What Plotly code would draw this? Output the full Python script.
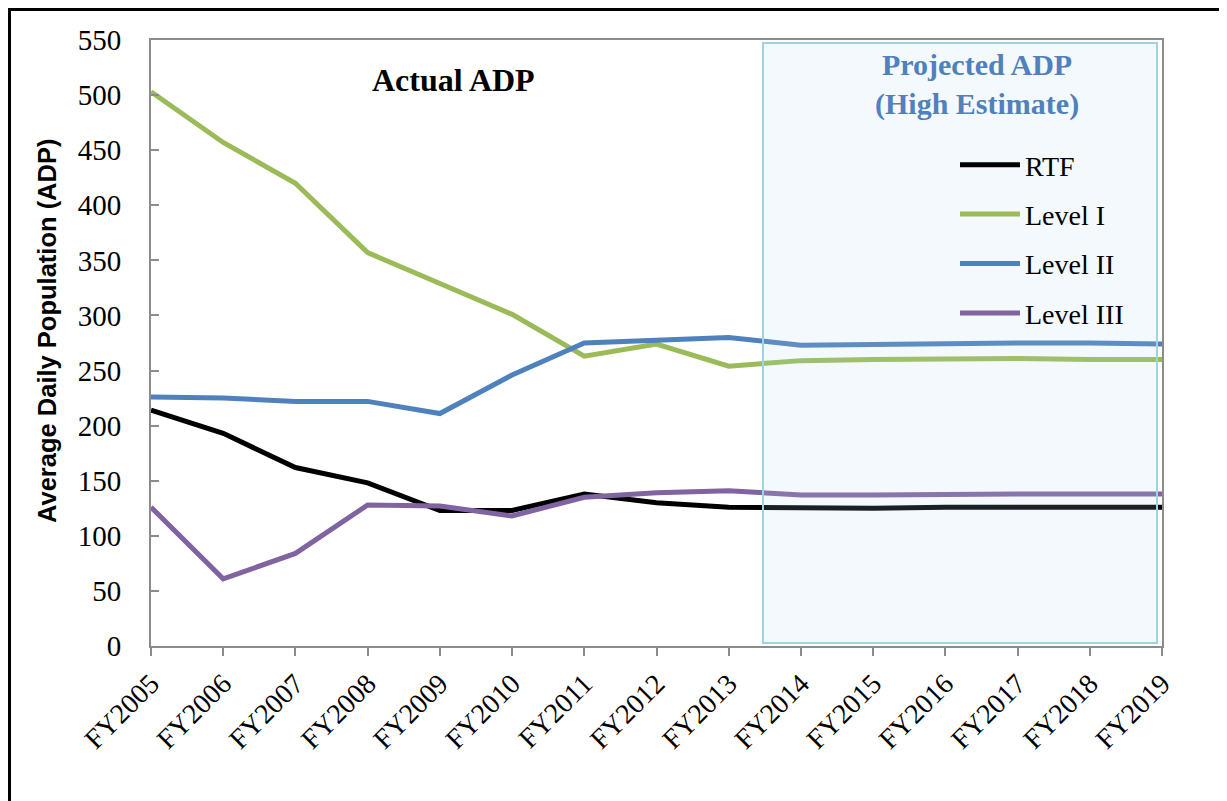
import plotly.graph_objects as go

years = ["FY2005", "FY2006", "FY2007", "FY2008", "FY2009", "FY2010", "FY2011", "FY2012",
         "FY2013", "FY2014", "FY2015", "FY2016", "FY2017", "FY2018", "FY2019"]
rtf = [214, 193, 162, 148, 123, 123, 138, 130, 126, 125, 125, 126, 126, 126, 126]
level1 = [503, 457, 420, 357, 329, 301, 263, 274, 254, 259, 260, 261, 261, 260, 260]
level2 = [226, 225, 222, 222, 211, 246, 275, 278, 280, 273, 274, 275, 275, 275, 274]
level3 = [126, 61, 84, 128, 127, 118, 135, 139, 141, 137, 137, 138, 138, 138, 138]

series = [("RTF", rtf, "#000000"), ("Level I", level1, "#9BBB59"),
          ("Level II", level2, "#4F81BD"), ("Level III", level3, "#8064A2")]

OFF = 8  # page body margin
W, H = 1227 - OFF, 801 - OFF
L, R, T, B = 151, 1162, 40, 646  # screen pixel positions of plot area
pw, ph = R - L, B - T
def px(x):
    return (x - L) / pw
def py(y):
    return (B - y) / ph

fig = go.Figure()
for i, (name, vals, col) in enumerate(series):
    fig.add_trace(go.Scatter(x=years, y=vals, name=name, mode="lines",
                             line=dict(color=col, width=5), legendgroup=f"g{i}"))

serif = "Liberation Serif"
fig.update_layout(
    width=W, height=H,
    margin=dict(l=L - OFF, r=W - (R - OFF), t=T - OFF, b=H - (B - OFF)),
    paper_bgcolor="white", plot_bgcolor="white",
    showlegend=True,
    legend=dict(x=px(955), y=py(140), xanchor="left", yanchor="top",
                font=dict(family=serif, size=28, color="#000000"),
                bgcolor="rgba(0,0,0,0)", tracegroupgap=10, itemwidth=60),
    xaxis=dict(range=[0, 14], showgrid=False, zeroline=False, showline=True,
               linecolor="#8c8c8c", linewidth=2, mirror=True,
               ticks="outside", ticklen=8, tickcolor="#8c8c8c", tickwidth=2,
               tickangle=-45, tickfont=dict(family=serif, size=28, color="#000000")),
    yaxis=dict(range=[0, 550], dtick=50, showgrid=False, zeroline=False, showline=True,
               linecolor="#8c8c8c", linewidth=2, mirror=True,
               ticks="inside", ticklen=8, tickcolor="#8c8c8c", tickwidth=2,
               ticklabelstandoff=22,
               tickfont=dict(family=serif, size=29, color="#000000")),
)

shapes = [
    dict(type="rect", xref="paper", yref="paper", x0=px(763), x1=px(1157), y0=py(643), y1=py(43),
         fillcolor="rgba(175,215,235,0.15)", line=dict(color="#9DD3E3", width=2), layer="above"),
    dict(type="line", xref="paper", yref="paper", x0=px(8), x1=px(1240), y0=py(9.5), y1=py(9.5),
         line=dict(color="#000000", width=3)),
    dict(type="line", xref="paper", yref="paper", x0=px(9.5), x1=px(9.5), y0=py(8), y1=py(820),
         line=dict(color="#000000", width=3)),
]
fig.update_layout(shapes=shapes)

fig.add_annotation(xref="paper", yref="paper", x=px(453), y=py(80), text="<b>Actual ADP</b>",
                   xanchor="center", yanchor="middle",
                   showarrow=False, font=dict(family=serif, size=32, color="#000000"))
fig.add_annotation(xref="paper", yref="paper", x=px(977), y=py(84),
                   text="<b>Projected ADP<br>(High Estimate)</b>", xanchor="center", yanchor="middle",
                   showarrow=False, font=dict(family=serif, size=30, color="#4F81BD"))
fig.add_annotation(xref="paper", yref="paper", x=px(47), y=py(331), textangle=-90,
                   xanchor="center", yanchor="middle",
                   text="<b>Average Daily Population (ADP)</b>", showarrow=False,
                   font=dict(family="Liberation Sans", size=25.5, color="#000000"))

fig.write_html("out.html")
